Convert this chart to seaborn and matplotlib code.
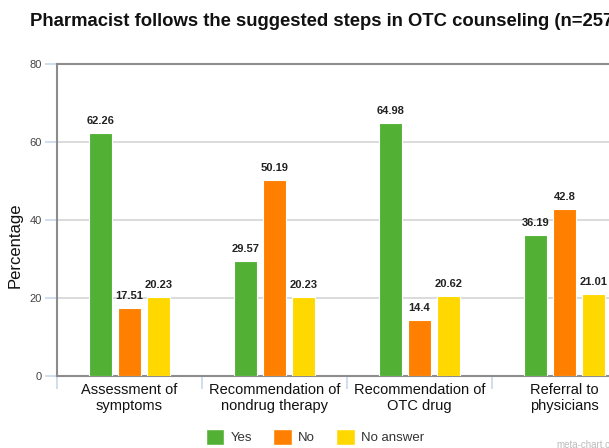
import matplotlib
matplotlib.use("Agg")
import matplotlib.pyplot as plt
import seaborn as sns
import pandas as pd
from matplotlib.patches import Patch
from matplotlib.ticker import FixedLocator

# Survey data
categories = ["Assessment of\nsymptoms", "Recommendation of\nnondrug therapy",
              "Recommendation of\nOTC drug", "Referral to\nphysicians"]
answers = ["Yes", "No", "No answer"]
yes_vals = [62.26, 29.57, 64.98, 36.19]
no_vals = [17.51, 50.19, 14.4, 42.8]
noanswer_vals = [20.23, 20.23, 20.62, 21.01]
colors = ["#52b135", "#ff8000", "#ffd800"]
y_ticks = [0, 20, 40, 60, 80]

rows = []
for ans, vals in zip(answers, [yes_vals, no_vals, noanswer_vals]):
    for cat, v in zip(categories, vals):
        rows.append({"category": cat, "answer": ans, "value": v})
df = pd.DataFrame(rows)

sns.set_style("white")
plt.rcParams["font.family"] = ["Liberation Sans", "DejaVu Sans"]

W, H = 609, 448
fig = plt.figure(figsize=(W / 100, H / 100), dpi=100)
ax = fig.add_axes([57 / W, 72 / H, 580 / W, 312 / H])

sns.barplot(data=df, x="category", y="value", hue="answer", order=categories,
            hue_order=answers, palette=colors, saturation=1, width=0.6, gap=0.22,
            edgecolor="white", linewidth=0.8, legend=False, ax=ax, zorder=3)

for container in ax.containers:
    ax.bar_label(container, labels=[f"{v:g}" for v in container.datavalues],
                 padding=5, fontsize=8, fontweight="bold", color="#222222")

ax.set_xlim(-0.5, 3.5)
ax.set_ylim(0, 80)
ax.set_yticks(y_ticks)
ax.set_yticklabels([str(t) for t in y_ticks], fontsize=8, color="#444444")
ax.yaxis.grid(True, color="#d4d4d4", linewidth=1.2, zorder=0)
ax.set_axisbelow(True)

ax.tick_params(axis="y", length=9, width=1.2, color="#c8d8ea", pad=2, left=True)
ax.tick_params(axis="x", which="major", length=0, labelsize=10.5, pad=5,
               labelcolor="#111111")
ax.xaxis.set_minor_locator(FixedLocator([-0.5, 0.5, 1.5, 2.5]))
ax.tick_params(axis="x", which="minor", length=9, width=1.2, color="#c8d8ea",
               bottom=True)

for side in ["left", "top", "bottom"]:
    ax.spines[side].set_color("#8c8c8c")
    ax.spines[side].set_linewidth(1.5)
ax.spines["right"].set_visible(False)

ax.set_xlabel("")
ax.set_ylabel("")
fig.text(15 / W, 1 - 245 / H, "Percentage", fontsize=12, color="#111111",
         rotation=90, ha="center", va="center")

fig.text(30 / W, 1 - 22 / H, "Pharmacist follows the suggested steps in OTC counseling (n=257)",
         fontsize=13.3, fontweight="bold", ha="left", va="center", color="#111111")

handles = [Patch(facecolor=c, edgecolor="white", label=a) for a, c in zip(answers, colors)]
fig.legend(handles=handles, loc="center", bbox_to_anchor=(315 / W, 1 - 437 / H),
           ncol=3, frameon=False, fontsize=9.5, handlelength=1.4, handleheight=1.4,
           columnspacing=1.6, handletextpad=0.5, labelcolor="#333333")

fig.text(556 / W, 1 - 445 / H, "meta-chart.com", fontsize=7, color="#bbbbbb",
         ha="left", va="center")

fig.savefig("out.png", dpi=100)
